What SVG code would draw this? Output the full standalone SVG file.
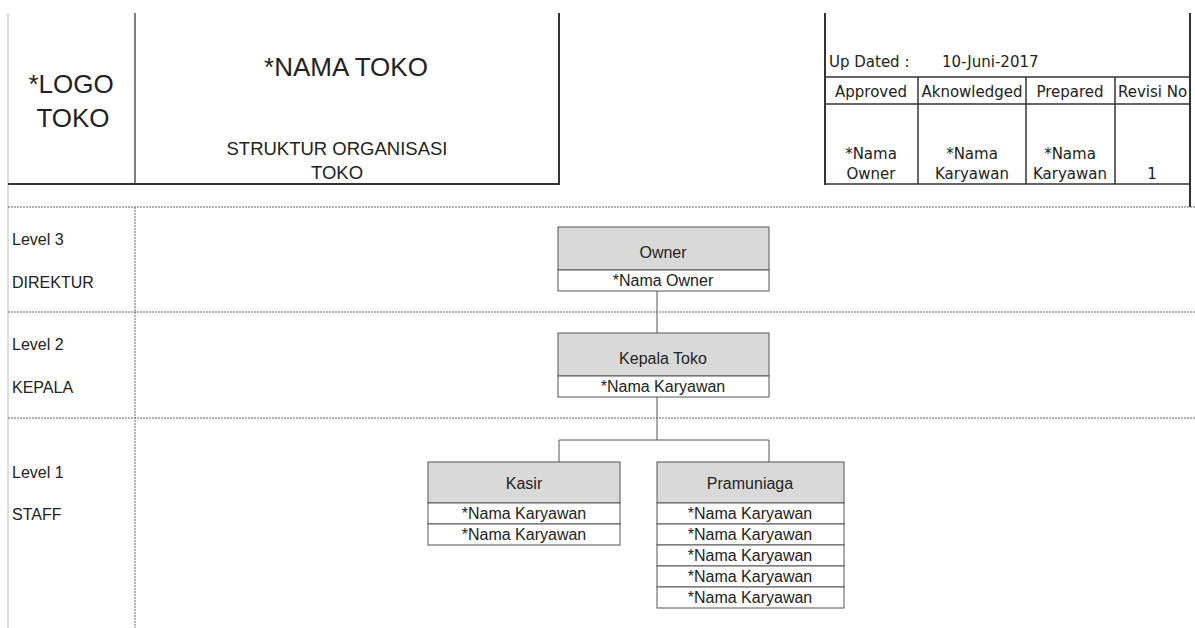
<svg xmlns="http://www.w3.org/2000/svg" width="1195" height="628" viewBox="0 0 1195 628">
<style>
  .sans { font-family: "Liberation Sans", Arial, sans-serif; fill: #222; }
  .comic { font-family: "DejaVu Sans", "Liberation Sans", sans-serif; fill: #222; font-size: 15px; }
  .hdr { stroke: #333; stroke-width: 2; fill: none; }
  .tbl { stroke: #333; stroke-width: 1.5; fill: none; }
  .dash { stroke: #666; stroke-width: 1; stroke-dasharray: 2 1; fill: none; }
  .boxh { fill: #d9d9d9; stroke: #555; stroke-width: 1; }
  .boxr { fill: #ffffff; stroke: #555; stroke-width: 1; }
  .conn { stroke: #555; stroke-width: 1; fill: none; }
  .t16 { font-size: 16px; }
  .lvl { font-size: 16px; }
</style>
<defs>
  <clipPath id="clipRev"><rect x="1115" y="77" width="75" height="107"/></clipPath>
</defs>
<rect width="1195" height="628" fill="#ffffff"/>

<!-- header frame -->
<g id="header">
  <line x1="8" y1="13" x2="8" y2="628" stroke="#bbbbbb" stroke-width="1"/>
  <line x1="135" y1="13" x2="135" y2="184" stroke="#555" stroke-width="1.5"/>
  <line x1="8" y1="184" x2="560" y2="184" class="hdr"/>
  <line x1="559" y1="13" x2="559" y2="185" class="hdr"/>
  <text x="71" y="93" class="sans" font-size="26" text-anchor="middle">*LOGO</text>
  <text x="73" y="127" class="sans" font-size="26" text-anchor="middle">TOKO</text>
  <text x="346" y="76" class="sans" font-size="26" text-anchor="middle">*NAMA TOKO</text>
  <text x="337" y="155" class="sans" font-size="18.5" text-anchor="middle">STRUKTUR ORGANISASI</text>
  <text x="337" y="179" class="sans" font-size="18.5" text-anchor="middle">TOKO</text>
</g>

<!-- approval table -->
<g id="approval-table">
  <line x1="825" y1="13" x2="825" y2="185" class="hdr"/>
  <line x1="1190" y1="13" x2="1190" y2="207" class="hdr"/>
  <line x1="825" y1="77" x2="1190" y2="77" class="tbl"/>
  <line x1="825" y1="104" x2="1190" y2="104" class="tbl"/>
  <line x1="825" y1="184" x2="1190" y2="184" class="tbl"/>
  <line x1="918" y1="77" x2="918" y2="184" class="tbl"/>
  <line x1="1026" y1="77" x2="1026" y2="184" class="tbl"/>
  <line x1="1115" y1="77" x2="1115" y2="184" class="tbl"/>
  <text x="829" y="67" class="comic">Up Dated :</text>
  <text x="942" y="67" class="comic">10-Juni-2017</text>
  <text x="871" y="97" class="comic" text-anchor="middle">Approved</text>
  <text x="972" y="97" class="comic" text-anchor="middle">Aknowledged</text>
  <text x="1070" y="97" class="comic" text-anchor="middle">Prepared</text>
  <text x="1118" y="97" class="comic" clip-path="url(#clipRev)">Revisi No</text>
  <text x="871" y="159" class="comic" text-anchor="middle">*Nama</text>
  <text x="871" y="179" class="comic" text-anchor="middle">Owner</text>
  <text x="972" y="159" class="comic" text-anchor="middle">*Nama</text>
  <text x="972" y="179" class="comic" text-anchor="middle">Karyawan</text>
  <text x="1070" y="159" class="comic" text-anchor="middle">*Nama</text>
  <text x="1070" y="179" class="comic" text-anchor="middle">Karyawan</text>
  <text x="1152" y="179" class="comic" text-anchor="middle">1</text>
</g>

<!-- level grid -->
<g id="levels">
  <line x1="8" y1="207" x2="1195" y2="207" class="dash"/>
  <line x1="8" y1="312" x2="1195" y2="312" class="dash"/>
  <line x1="8" y1="418" x2="1195" y2="418" class="dash"/>
  <line x1="135" y1="207" x2="135" y2="628" class="dash"/>
  <text x="12" y="245" class="sans lvl">Level 3</text>
  <text x="12" y="288" class="sans lvl">DIREKTUR</text>
  <text x="12" y="350" class="sans lvl">Level 2</text>
  <text x="12" y="393" class="sans lvl">KEPALA</text>
  <text x="12" y="478" class="sans lvl">Level 1</text>
  <text x="12" y="520" class="sans lvl">STAFF</text>
</g>

<!-- connectors -->
<g id="connectors">
  <line x1="657" y1="291" x2="657" y2="333" class="conn"/>
  <line x1="657" y1="397" x2="657" y2="440" class="conn"/>
  <polyline points="559,462 559,440 769,440 769,462" class="conn"/>
</g>

<!-- nodes -->
<g id="node-owner">
  <rect x="558" y="227" width="211" height="43" class="boxh"/>
  <rect x="558" y="270" width="211" height="21" class="boxr"/>
  <text x="663" y="258" class="sans t16" text-anchor="middle">Owner</text>
  <text x="663" y="286" class="sans t16" text-anchor="middle">*Nama Owner</text>
</g>

<g id="node-kepala">
  <rect x="558" y="333" width="211" height="43" class="boxh"/>
  <rect x="558" y="376" width="211" height="21" class="boxr"/>
  <text x="663" y="364" class="sans t16" text-anchor="middle">Kepala Toko</text>
  <text x="663" y="392" class="sans t16" text-anchor="middle">*Nama Karyawan</text>
</g>

<g id="node-kasir">
  <rect x="428" y="462" width="192" height="41" class="boxh"/>
  <rect x="428" y="503" width="192" height="21" class="boxr"/>
  <rect x="428" y="524" width="192" height="21" class="boxr"/>
  <text x="524" y="489" class="sans t16" text-anchor="middle">Kasir</text>
  <text x="524" y="519" class="sans t16" text-anchor="middle">*Nama Karyawan</text>
  <text x="524" y="540" class="sans t16" text-anchor="middle">*Nama Karyawan</text>
</g>

<g id="node-pramuniaga">
  <rect x="657" y="462" width="187" height="41" class="boxh"/>
  <rect x="657" y="503" width="187" height="21" class="boxr"/>
  <rect x="657" y="524" width="187" height="21" class="boxr"/>
  <rect x="657" y="545" width="187" height="21" class="boxr"/>
  <rect x="657" y="566" width="187" height="21" class="boxr"/>
  <rect x="657" y="587" width="187" height="21" class="boxr"/>
  <text x="750" y="489" class="sans t16" text-anchor="middle">Pramuniaga</text>
  <text x="750" y="519" class="sans t16" text-anchor="middle">*Nama Karyawan</text>
  <text x="750" y="540" class="sans t16" text-anchor="middle">*Nama Karyawan</text>
  <text x="750" y="561" class="sans t16" text-anchor="middle">*Nama Karyawan</text>
  <text x="750" y="582" class="sans t16" text-anchor="middle">*Nama Karyawan</text>
  <text x="750" y="603" class="sans t16" text-anchor="middle">*Nama Karyawan</text>
</g>
</svg>
